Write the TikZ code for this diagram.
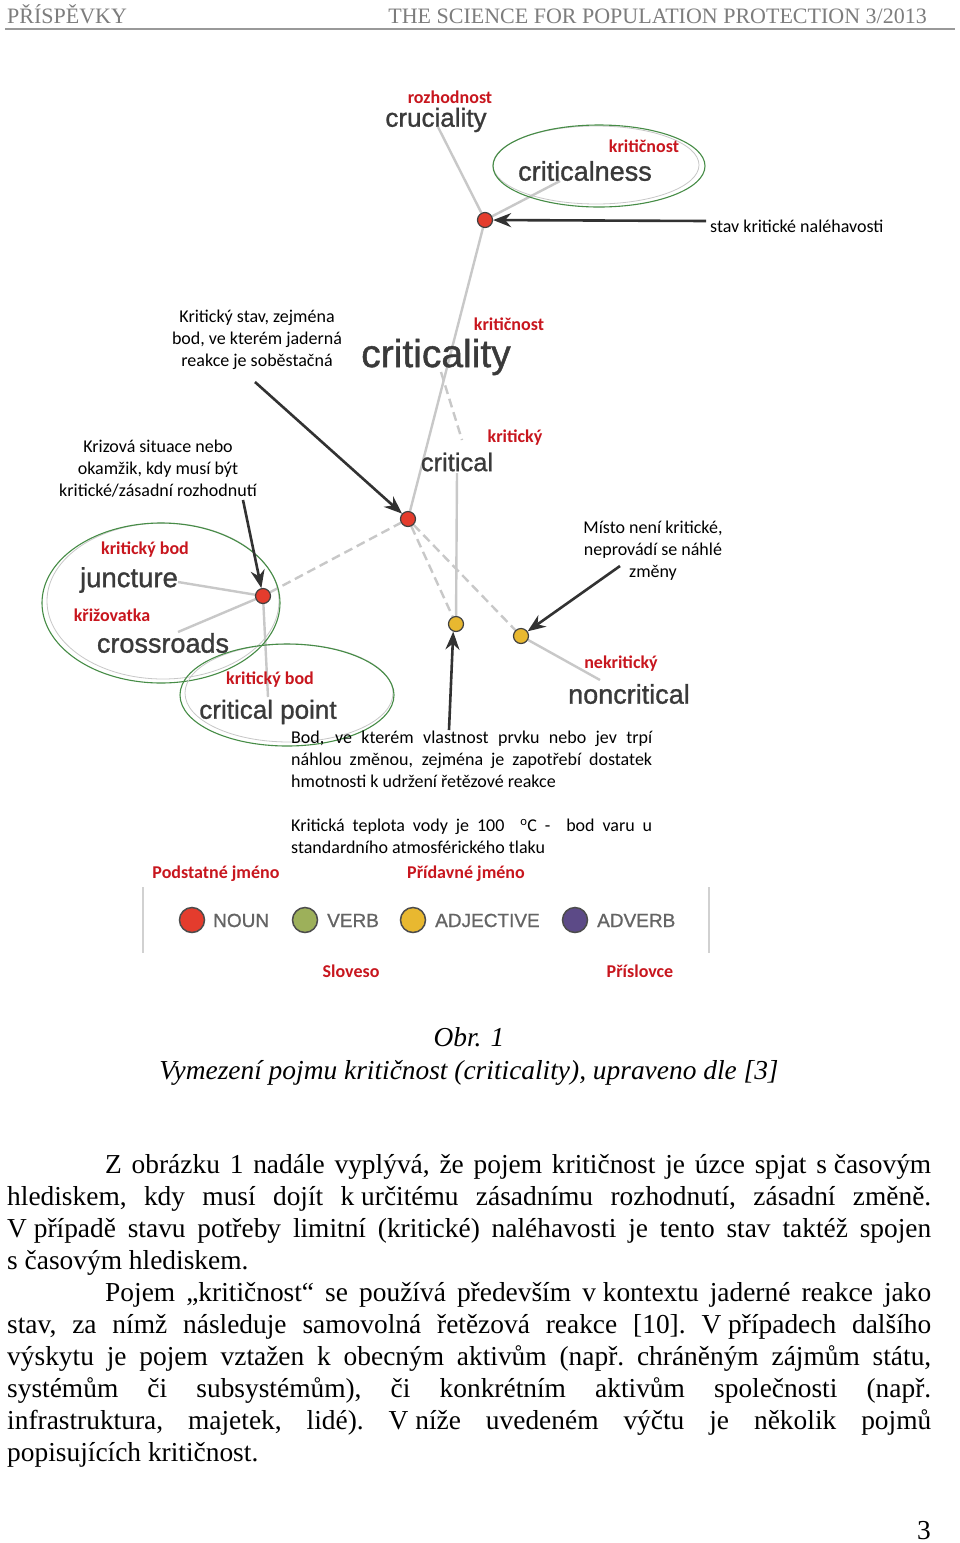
\documentclass[tikz,border=0pt]{standalone}
\usepackage{fontspec}
\setmainfont{Liberation Serif}
\newfontfamily\calib{Carlito}
\newfontfamily\arialf{Liberation Sans}[FakeBold=1.1]
\newfontfamily\arialg{Liberation Sans}[FakeBold=0.9]
\usetikzlibrary{arrows.meta,calc}
\pgfdeclarelayer{bg}
\pgfsetlayers{bg,main}
\definecolor{kred}{RGB}{200,22,30}
\definecolor{wordgray}{RGB}{58,58,58}
\definecolor{linegray}{RGB}{200,200,200}
\definecolor{arrowgray}{RGB}{50,50,50}
\definecolor{ellgreen}{RGB}{70,140,70}
\definecolor{dotred}{RGB}{228,60,45}
\definecolor{dotyellow}{RGB}{232,184,48}
\definecolor{verbgreen}{RGB}{157,176,90}
\definecolor{advpurple}{RGB}{92,74,135}
\definecolor{hdrgray}{RGB}{125,125,125}
\definecolor{leggray}{RGB}{100,100,100}
\newcommand{\fs}{\hspace{0.25em}}
\tikzset{
 kredlbl/.style={text=kred, font=\calib\bfseries\fontsize{18}{22}\selectfont, inner sep=0pt},
 kword/.style={text=wordgray, font=\arialf\fontsize{27}{30}\selectfont, inner sep=0pt},
 knote/.style={text=black, font=\calib\fontsize{18}{22}\selectfont, inner sep=0pt, align=center},
 kpara/.style={text=black, font=\calib\fontsize{18}{22}\selectfont, inner sep=0pt, align=left, anchor=north west},
 klink/.style={draw=linegray, line width=2.4pt},
 kdlink/.style={klink, dash pattern=on 9pt off 5pt},
 karrow/.style={draw=arrowgray, line width=2.6pt, -{Stealth[length=18pt,width=14pt]}},
 kdot/.style={circle, draw=black!75, line width=1.2pt, minimum size=15pt, inner sep=0pt},
 kring/.style={draw=ellgreen, line width=1.1pt},
 kfaint/.style={draw=black!22, line width=0.8pt},
 klegdot/.style={circle, draw=black!70, line width=1.5pt, minimum size=25pt, inner sep=0pt},
 klegtxt/.style={text=leggray, font=\arialg\fontsize{19}{22}\selectfont, anchor=base west, inner sep=0pt},
 kbody/.style={font=\frenchspacing\fontsize{27.4}{32}\selectfont, anchor=base west, inner sep=0pt},
 khdr/.style={text=hdrgray, font=\fontsize{22}{22}\selectfont, inner sep=0pt},
}
\begin{document}
\begin{tikzpicture}[x=1pt,y=-1pt]
\useasboundingbox (0,0) rectangle (960,1543);
\begin{pgfonlayer}{bg}
\fill[white] (0,0) rectangle (960,1543);
\end{pgfonlayer}

% header
\node[khdr, anchor=base west] (hdrL) at (7,23) {PŘÍSPĚVKY};
\node[khdr, anchor=base east] (hdrR) at (927,23) {THE SCIENCE FOR POPULATION PROTECTION 3/2013};
\draw[black!40, line width=1.2pt] (5,29) -- (955,29);

% ellipses
\draw[kfaint] (596,165) ellipse [x radius=103, y radius=39];
\draw[kring] (599,166) ellipse [x radius=106, y radius=41];
\draw[kfaint] (163,601) ellipse [x radius=116, y radius=78];
\draw[kring] (161,603) ellipse [x radius=119, y radius=80];
\draw[kfaint] (289,693) ellipse [x radius=104, y radius=49];
\draw[kring] (287,695) ellipse [x radius=107, y radius=51];

% top cluster
\node[kredlbl] (rozh) at (450,97) {rozhodnost};
\node[kword, font=\arialf\fontsize{26}{30}\selectfont] (cruc) at (436,120) {cruciality};
\node[kredlbl] (kritn1) at (644,146) {kritičnost};
\node[kword] (crness) at (585,171) {criticalness};
\node[kdot, fill=dotred] (A) at (485,220) {};
\node[knote, anchor=west] (stav) at (710,226) {stav kritické naléhavosti};
\coordinate (stavTail) at (706,221);

% criticality
\node[knote] (kstav) at (257,340) {Kritický stav, zejména\\bod, ve kterém jaderná\\reakce je soběstačná};
\node[kredlbl] (kritn2) at (509,324) {kritičnost};
\node[kword, font=\arialf\fontsize{39}{42}\selectfont] (clty) at (436,357) {criticality};
\node[kredlbl] (krity) at (515,438) {kritický};
\node[kword, font=\arialf\fontsize{25.5}{30}\selectfont] (crit) at (457,462) {critical};
\node[knote] (krize) at (158,469) {Krizová situace nebo\\okamžik, kdy musí být\\kritické/zásadní rozhodnutí};

% left cluster
\node[kredlbl] (kbod1) at (145,550) {kritický bod};
\node[kword, font=\arialf\fontsize{27.5}{30}\selectfont] (junc) at (129,580) {juncture};
\node[kredlbl] (kriz) at (112,615) {křižovatka};
\node[kword] (cross) at (163,643) {crossroads};
\node[kredlbl] (kbod2) at (270,680) {kritický bod};
\node[kword, font=\arialf\fontsize{26}{30}\selectfont] (cpoint) at (268,712) {critical point};

% dots
\node[kdot, fill=dotred] (B) at (408,519) {};
\node[kdot, fill=dotred] (C) at (263,596) {};
\node[kdot, fill=dotyellow] (D) at (456,624) {};
\node[kdot, fill=dotyellow] (E) at (521,636) {};

% right cluster
\node[knote] (misto) at (653,551) {Místo není kritické,\\neprovádí se náhlé\\změny};
\node[kredlbl] (nekrit) at (621,664) {nekritický};
\node[kword] (nonc) at (629,694) {noncritical};

% paragraphs
\node[kpara] (bodpar) at (291,731) {\makebox[361pt][s]{Bod, ve kterém vlastnost prvku nebo jev trpí}\\\makebox[361pt][s]{náhlou změnou, zejména je zapotřebí dostatek}\\hmotnosti k udržení řetězové reakce};
\node[kpara] (teplpar) at (291,819) {\makebox[361pt][s]{Kritická teplota vody je 100 \ \textsuperscript{o}C - \ bod varu u}\\standardního atmosférického tlaku};

% coordinates for free ends
\coordinate (crucEnd) at (438,127);
\coordinate (crnessEnd) at (560,181);
\coordinate (cltyEnd) at (441,372);
\coordinate (critTop) at (462,440);
\coordinate (critBot) at (457,473);
\coordinate (noncEnd) at (600,680);
\coordinate (juncEnd) at (178,582);
\coordinate (crossEnd) at (178,632);
\coordinate (cpEnd) at (268,697);
\coordinate (kstTail) at (255,382);
\coordinate (krzTail) at (243,500);
\coordinate (mstTail) at (620,566);
\coordinate (bodTail) at (449,730);

\begin{pgfonlayer}{bg}
\draw[klink] (crucEnd) -- (A);
\draw[klink] (A) -- (crnessEnd);
\draw[klink] (A) -- (B);
\draw[kdlink] (cltyEnd) -- (critTop);
\draw[klink] (critBot) -- (D);
\draw[kdlink] (B) -- (D);
\draw[kdlink] (B) -- (E);
\draw[klink] (E) -- (noncEnd);
\draw[klink] (juncEnd) -- (C);
\draw[klink] (crossEnd) -- (C);
\draw[klink] (C) -- (cpEnd);
\draw[kdlink] (C) -- (B);
\end{pgfonlayer}

% pointers
\draw[karrow] (stavTail) -- (A);
\draw[karrow] (kstTail) -- (B);
\draw[karrow] (krzTail) -- (C);
\draw[karrow] (mstTail) -- (E);
\draw[karrow] (bodTail) -- (D.250);

% legend
\node[kredlbl] (podst) at (216,874) {Podstatné jméno};
\node[kredlbl] (prid) at (466,874) {Přídavné jméno};
\draw[black!18, line width=1.5pt] (143,887) -- (143,953);
\draw[black!18, line width=1.5pt] (709,887) -- (709,953);
\node[klegdot, fill=dotred] (lnoun) at (192,920) {};
\node[klegtxt] (tnoun) at (213,927) {NOUN};
\node[klegdot, fill=verbgreen] (lverb) at (305,920) {};
\node[klegtxt] (tverb) at (327,927) {VERB};
\node[klegdot, fill=dotyellow] (ladj) at (413,920) {};
\node[klegtxt] (tadj) at (435,927) {ADJECTIVE};
\node[klegdot, fill=advpurple] (ladv) at (575,920) {};
\node[klegtxt] (tadv) at (597,927) {ADVERB};
\node[kredlbl] (slov) at (351,971) {Sloveso};
\node[kredlbl] (prisl) at (640,971) {Příslovce};

% caption
\node[font=\itshape\fontsize{27.4}{32}\selectfont, anchor=base, inner sep=0pt] (obr) at (469,1046) {Obr. 1};
\node[font=\itshape\fontsize{27.4}{32}\selectfont, anchor=base, inner sep=0pt] (capt) at (469,1079) {Vymezení pojmu kritičnost (criticality), upraveno dle [3]};

% body text
\node[kbody] (b1) at (105,1173) {\makebox[826pt][s]{Z obrázku 1 nadále vyplývá, že pojem kritičnost je úzce spjat s\fs časovým}};
\node[kbody] (b2) at (7,1205) {\makebox[924pt][s]{hlediskem, kdy musí dojít k\fs určitému zásadnímu rozhodnutí, zásadní změně.}};
\node[kbody] (b3) at (7,1237) {\makebox[924pt][s]{V\fs případě stavu potřeby limitní (kritické) naléhavosti je tento stav taktéž spojen}};
\node[kbody] (b4) at (7,1269) {s\fs časovým hlediskem.};
\node[kbody] (b5) at (105,1301) {\makebox[826pt][s]{Pojem „kritičnost“ se používá především v\fs kontextu jaderné reakce jako}};
\node[kbody] (b6) at (7,1333) {\makebox[924pt][s]{stav, za nímž následuje samovolná řetězová reakce [10]. V\fs případech dalšího}};
\node[kbody] (b7) at (7,1365) {\makebox[924pt][s]{výskytu je pojem vztažen k obecným aktivům (např. chráněným zájmům státu,}};
\node[kbody] (b8) at (7,1397) {\makebox[924pt][s]{systémům či subsystémům), či konkrétním aktivům společnosti (např.}};
\node[kbody] (b9) at (7,1429) {\makebox[924pt][s]{infrastruktura, majetek, lidé). V\fs níže uvedeném výčtu je několik pojmů}};
\node[kbody] (b10) at (7,1461) {popisujících kritičnost.};
\node[kbody, anchor=base] (pnum) at (924,1539) {3};
\end{tikzpicture}
\end{document}
